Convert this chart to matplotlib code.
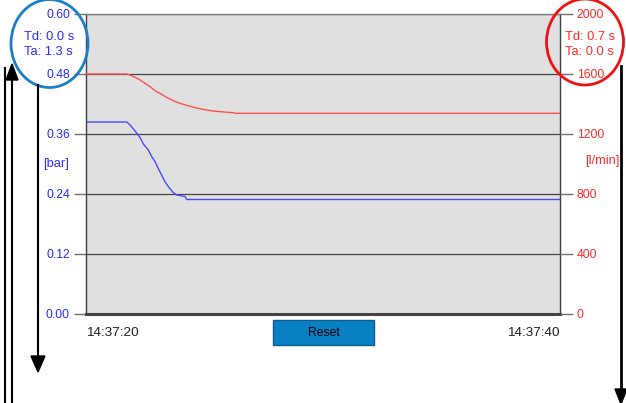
import matplotlib
matplotlib.use("Agg")
import matplotlib.pyplot as plt
from matplotlib.patches import Ellipse, Polygon, Rectangle

plt.rcParams['font.family'] = ['Liberation Sans', 'DejaVu Sans']

# ---- data ----
time_s = [0.0, 1.72, 1.86, 2.07, 2.28, 2.42, 2.63, 2.77, 2.91, 3.05, 3.19, 3.33,
          3.47, 3.68, 3.83, 4.18, 4.25, 20.0]
pressure_bar = [0.384, 0.384, 0.378, 0.366, 0.353, 0.340, 0.328, 0.315, 0.305,
                0.291, 0.278, 0.265, 0.255, 0.243, 0.238, 0.235, 0.229, 0.229]

flow_time_s = [0.0, 1.72, 1.86, 2.07, 2.28, 2.49, 2.70, 2.91, 3.12, 3.40, 3.68,
               3.97, 4.25, 4.60, 4.95, 5.37, 5.80, 6.22, 6.29, 20.0]
flow_lpm = [1600, 1600, 1593, 1578, 1560, 1538, 1516, 1489, 1471, 1444, 1422,
            1404, 1391, 1376, 1364, 1353, 1347, 1342, 1338, 1338]

pressure_ticks = [0.00, 0.12, 0.24, 0.36, 0.48, 0.60]
flow_ticks = [0, 400, 800, 1200, 1600, 2000]
time_ticks = [0, 20]
time_labels = ["14:37:20", "14:37:40"]
pressure_info = ["Td: 0.0 s", "Ta: 1.3 s"]
flow_info = ["Td: 0.7 s", "Ta: 0.0 s"]

BLUE = '#2b2bff'
RED = '#ff2a2a'
W, H = 626, 403

fig = plt.figure(figsize=(W / 100, H / 100), dpi=100)
ax = fig.add_axes([86 / W, 1 - 314 / H, (560 - 86) / W, 300 / H])
ax.set_facecolor('#e0e0e0')
ax.set_xlim(0, 20)
ax.set_ylim(0, 0.6)
ax.set_yticks(pressure_ticks)
ax.set_yticklabels([f"{v:.2f}" for v in pressure_ticks])
ax.tick_params(axis='y', length=8.6, width=1, color='#707070', pad=3,
               labelcolor=BLUE, labelsize=8.8)
ax.set_xticks(time_ticks)
ax.set_xticklabels(time_labels)
ax.tick_params(axis='x', length=0, pad=9.5, labelcolor='#202020', labelsize=9.7)
xl = ax.get_xticklabels()
xl[0].set_ha('left')
xl[1].set_ha('right')
ax.grid(axis='y', color='#454545', lw=0.9)
ax.grid(axis='x', visible=False)
ax.spines['top'].set_color('#808080')
ax.spines['top'].set_linewidth(1)
ax.spines['left'].set_color('#404040')
ax.spines['left'].set_linewidth(1)
ax.spines['right'].set_color('#404040')
ax.spines['right'].set_linewidth(1)
ax.spines['bottom'].set_color('#444444')
ax.spines['bottom'].set_linewidth(2.2)
ax.plot(time_s, pressure_bar, color='#4848ff', lw=1)

ax2 = ax.twinx()
ax2.set_ylim(0, 2000)
ax2.set_yticks(flow_ticks)
ax2.set_yticklabels([str(v) for v in flow_ticks])
ax2.tick_params(axis='y', length=9, width=1, color='#707070', pad=3,
                labelcolor=RED, labelsize=8.8)
for s in ax2.spines.values():
    s.set_visible(False)
ax2.plot(flow_time_s, flow_lpm, color='#ff5050', lw=1)

# unit labels and info texts
fig.text(43 / W, 1 - 164 / H, "[bar]", color=BLUE, fontsize=9.3, va='center', ha='left')
fig.text(585 / W, 1 - 161 / H, "[l/min]", color=RED, fontsize=9.3, va='center', ha='left')
fig.text(24 / W, 1 - 37 / H, pressure_info[0], color=BLUE, fontsize=9.3, va='center', ha='left')
fig.text(24 / W, 1 - 52 / H, pressure_info[1], color=BLUE, fontsize=9.3, va='center', ha='left')
fig.text(565 / W, 1 - 37 / H, flow_info[0], color=RED, fontsize=9.3, va='center', ha='left')
fig.text(565 / W, 1 - 52 / H, flow_info[1], color=RED, fontsize=9.3, va='center', ha='left')

# overlay in pixel coordinates for decorations
ov = fig.add_axes([0, 0, 1, 1], zorder=10)
ov.set_xlim(0, W)
ov.set_ylim(H, 0)
ov.axis('off')
ov.patch.set_alpha(0)

ov.add_patch(Ellipse((49.5, 43.5), 77, 88, fill=False, edgecolor='#1a7ec8', lw=2, clip_on=False))
ov.add_patch(Ellipse((585, 42), 77, 86, fill=False, edgecolor='#ee1111', lw=2, clip_on=False))

# arrows / lines
ov.plot([5, 5], [68, 403], color='black', lw=1.5)
ov.plot([12, 12], [78, 403], color='black', lw=1.5)
ov.add_patch(Polygon([[12, 64], [6, 80], [18, 80]], closed=True, color='black'))
ov.plot([38, 38], [85, 358], color='black', lw=1.5)
ov.add_patch(Polygon([[38, 372], [31, 356], [45, 356]], closed=True, color='black'))
ov.plot([621, 621], [66, 392], color='black', lw=2)
ov.add_patch(Polygon([[621, 404], [615, 389], [627, 389]], closed=True, color='black', clip_on=False))

# Reset button
ov.add_patch(Rectangle((273, 320), 101, 25, facecolor='#0a80c4', edgecolor='#0a5f90', lw=1))
ov.text(323.5, 332.5, "Reset", color='black', fontsize=8.7, ha='center', va='center')

fig.savefig("out.png", dpi=100)
